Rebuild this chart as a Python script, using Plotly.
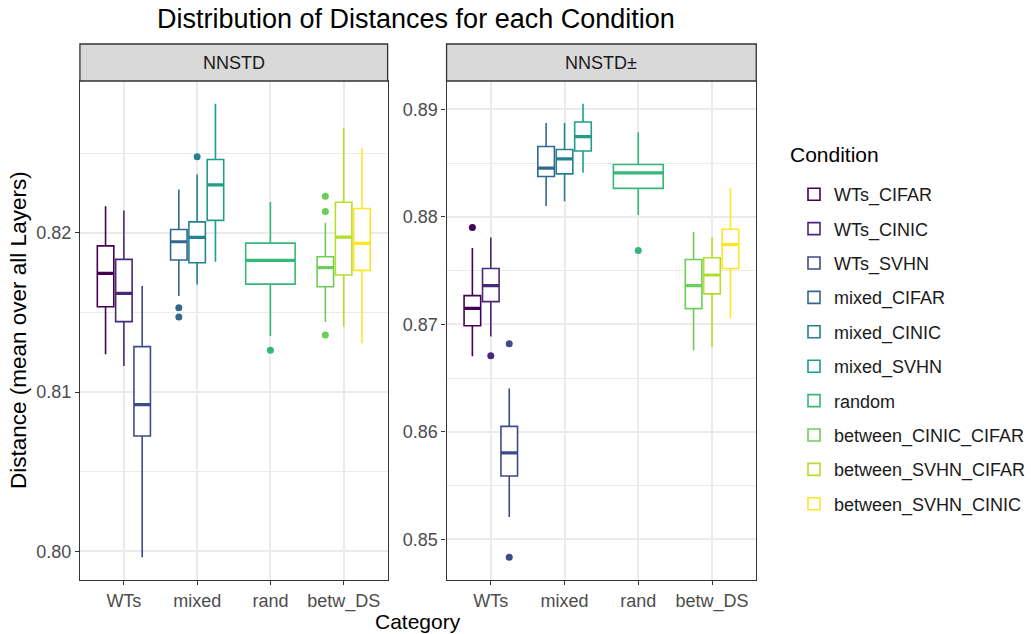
import plotly.graph_objects as go

# ---------------- data ----------------
categories = ["WTs", "mixed", "rand", "betw_DS"]
conditions = ["WTs_CIFAR", "WTs_CINIC", "WTs_SVHN", "mixed_CIFAR", "mixed_CINIC",
              "mixed_SVHN", "random", "between_CINIC_CIFAR", "between_SVHN_CIFAR",
              "between_SVHN_CINIC"]
cond_category = ["WTs", "WTs", "WTs", "mixed", "mixed", "mixed", "rand",
                 "betw_DS", "betw_DS", "betw_DS"]
facets = ["NNSTD", "NNSTD±"]

# NNSTD facet
nnstd_lo = [0.81238, 0.81164, 0.79962, 0.81603, 0.81676, 0.81818, 0.81352, 0.81440, 0.81411, 0.81307]
nnstd_q1 = [0.81536, 0.81442, 0.80724, 0.81829, 0.81812, 0.82078, 0.81678, 0.81661, 0.81735, 0.81764]
nnstd_med = [0.81745, 0.81620, 0.80921, 0.81944, 0.81971, 0.82301, 0.81827, 0.81781, 0.81973, 0.81934]
nnstd_q3 = [0.81918, 0.81833, 0.81285, 0.82021, 0.82069, 0.82460, 0.81935, 0.81850, 0.82192, 0.82153]
nnstd_hi = [0.82167, 0.82140, 0.81666, 0.82272, 0.82366, 0.82811, 0.82194, 0.82063, 0.82658, 0.82533]
nnstd_out = [[], [], [], [0.81530, 0.81471], [0.82477], [], [0.81263],
             [0.82230, 0.82134, 0.81359], [], []]

# NNSTD± facet
pm_lo = [0.86703, 0.86888, 0.85208, 0.88102, 0.88146, 0.88411, 0.88019, 0.86758, 0.86789, 0.87057]
pm_q1 = [0.86987, 0.87212, 0.85590, 0.88377, 0.88401, 0.88614, 0.88266, 0.87147, 0.87284, 0.87521]
pm_med = [0.87150, 0.87361, 0.85804, 0.88454, 0.88540, 0.88748, 0.88411, 0.87361, 0.87460, 0.87743]
pm_q3 = [0.87268, 0.87521, 0.86051, 0.88655, 0.88627, 0.88883, 0.88488, 0.87604, 0.87620, 0.87886]
pm_hi = [0.87710, 0.87808, 0.86403, 0.88874, 0.88874, 0.89054, 0.88788, 0.87861, 0.87808, 0.88272]
pm_out = [[0.87901], [0.86709], [0.86820, 0.84833], [], [], [], [0.87688], [], [], []]

# ---------------- style ----------------
colors = ["#440154", "#482878", "#3E4A89", "#31688E", "#26828E",
          "#1F9E89", "#35B779", "#6DCD59", "#B4DE2C", "#FDE725"]
FONT = "Liberation Sans, Arial, sans-serif"
W, H = 1031, 634
panel_px = [(80, 388), (447, 757)]
panel_top, panel_bot, strip_top = 81, 580, 44


def fx(p):
    return p / W


def fy(p):
    return 1 - p / H


facet_data = [
    (nnstd_lo, nnstd_q1, nnstd_med, nnstd_q3, nnstd_hi, nnstd_out),
    (pm_lo, pm_q1, pm_med, pm_q3, pm_hi, pm_out),
]

# dodge positions
dodge = 0.75
positions, widths = [], []
for i, c in enumerate(conditions):
    cat = cond_category[i]
    members = [j for j, cc in enumerate(cond_category) if cc == cat]
    n = len(members)
    k = members.index(i)
    base = categories.index(cat) + 1
    positions.append(base + (-(n - 1) / 2 + k) * dodge / n)
    widths.append(dodge / n * 0.9)

fig = go.Figure()
for f, (lo, q1, med, q3, hi, out) in enumerate(facet_data):
    xa = "x" if f == 0 else "x2"
    ya = "y" if f == 0 else "y2"
    for i, cond in enumerate(conditions):
        fig.add_trace(go.Box(
            x=[positions[i]], q1=[q1[i]], median=[med[i]], q3=[q3[i]],
            lowerfence=[lo[i]], upperfence=[hi[i]],
            width=widths[i], whiskerwidth=0, boxpoints=False,
            line=dict(color=colors[i], width=1.6), fillcolor="white",
            name=cond, legendgroup=cond, showlegend=(f == 0),
            xaxis=xa, yaxis=ya, hoverinfo="skip"))
        fig.add_trace(go.Scatter(
            x=[positions[i] - widths[i] / 2, positions[i] + widths[i] / 2],
            y=[med[i], med[i]], mode="lines",
            line=dict(color=colors[i], width=3.2),
            legendgroup=cond, showlegend=False, xaxis=xa, yaxis=ya, hoverinfo="skip"))
        if out[i]:
            fig.add_trace(go.Scatter(
                x=[positions[i]] * len(out[i]), y=out[i], mode="markers",
                marker=dict(color=colors[i], size=7),
                legendgroup=cond, showlegend=False, xaxis=xa, yaxis=ya, hoverinfo="skip"))


def yrange(lo, hi, out):
    vals = lo + hi + [v for o in out for v in o]
    a, b = min(vals), max(vals)
    e = (b - a) * 0.05
    return [a - e, b + e]


axis_common = dict(showline=True, mirror=True, linecolor="#333333", linewidth=1.3,
                   ticks="outside", ticklen=4, tickcolor="#333333", tickwidth=1.2,
                   gridcolor="#EBEBEB", gridwidth=1.5, zeroline=False,
                   tickfont=dict(family=FONT, size=18, color="#4D4D4D"))

layout = dict(
    width=W, height=H, margin=dict(l=0, r=0, t=0, b=0),
    plot_bgcolor="white", paper_bgcolor="white", boxmode="overlay",
    font=dict(family=FONT, color="black"),
    legend=dict(x=fx(795), xanchor="left", y=fy(176), yanchor="top",
                font=dict(family=FONT, size=18, color="#1A1A1A"),
                tracegroupgap=8, itemwidth=30, bgcolor="rgba(0,0,0,0)"),
)
for f in range(2):
    lo, q1, med, q3, hi, out = facet_data[f]
    sfx = "" if f == 0 else "2"
    layout["xaxis" + sfx] = dict(
        domain=[fx(panel_px[f][0]), fx(panel_px[f][1])], range=[0.4, 4.6],
        tickvals=[1, 2, 3, 4], ticktext=categories, anchor="y" + sfx,
        automargin=False, **axis_common)
    layout["yaxis" + sfx] = dict(
        domain=[fy(panel_bot), fy(panel_top)], range=yrange(lo, hi, out),
        tick0=0, dtick=0.01, tickformat=".2f", anchor="x" + sfx, automargin=False,
        minor=dict(dtick=0.005, showgrid=True, gridcolor="#EBEBEB", gridwidth=0.8, ticks=""),
        **axis_common)
fig.update_layout(**layout)

shapes, annotations = [], []
for f in range(2):
    x0, x1 = fx(panel_px[f][0]), fx(panel_px[f][1])
    shapes.append(dict(type="rect", xref="paper", yref="paper", x0=x0, x1=x1,
                       y0=fy(panel_top), y1=fy(strip_top), fillcolor="#D9D9D9",
                       line=dict(color="#333333", width=1.3), layer="above"))
    annotations.append(dict(text=facets[f], xref="paper", yref="paper",
                            x=(x0 + x1) / 2, y=fy((panel_top + strip_top) / 2),
                            xanchor="center", yanchor="middle", showarrow=False,
                            font=dict(family=FONT, size=18, color="#1A1A1A")))
annotations.append(dict(text="Distribution of Distances for each Condition",
                        xref="paper", yref="paper", x=fx(416.5), y=fy(19),
                        xanchor="center", yanchor="middle", showarrow=False,
                        font=dict(family=FONT, size=27, color="black")))
annotations.append(dict(text="Distance (mean over all Layers)", textangle=-90,
                        xref="paper", yref="paper", x=fx(18), y=fy(330),
                        xanchor="center", yanchor="middle", showarrow=False,
                        font=dict(family=FONT, size=22.5, color="black")))
annotations.append(dict(text="Category", xref="paper", yref="paper",
                        x=fx(418), y=fy(621), xanchor="center", yanchor="middle",
                        showarrow=False, font=dict(family=FONT, size=21, color="black")))
annotations.append(dict(text="Condition", xref="paper", yref="paper",
                        x=fx(789), y=fy(154), xanchor="left", yanchor="middle",
                        showarrow=False, font=dict(family=FONT, size=21, color="black")))
fig.update_layout(shapes=shapes, annotations=annotations)

fig.write_html("out.html")
